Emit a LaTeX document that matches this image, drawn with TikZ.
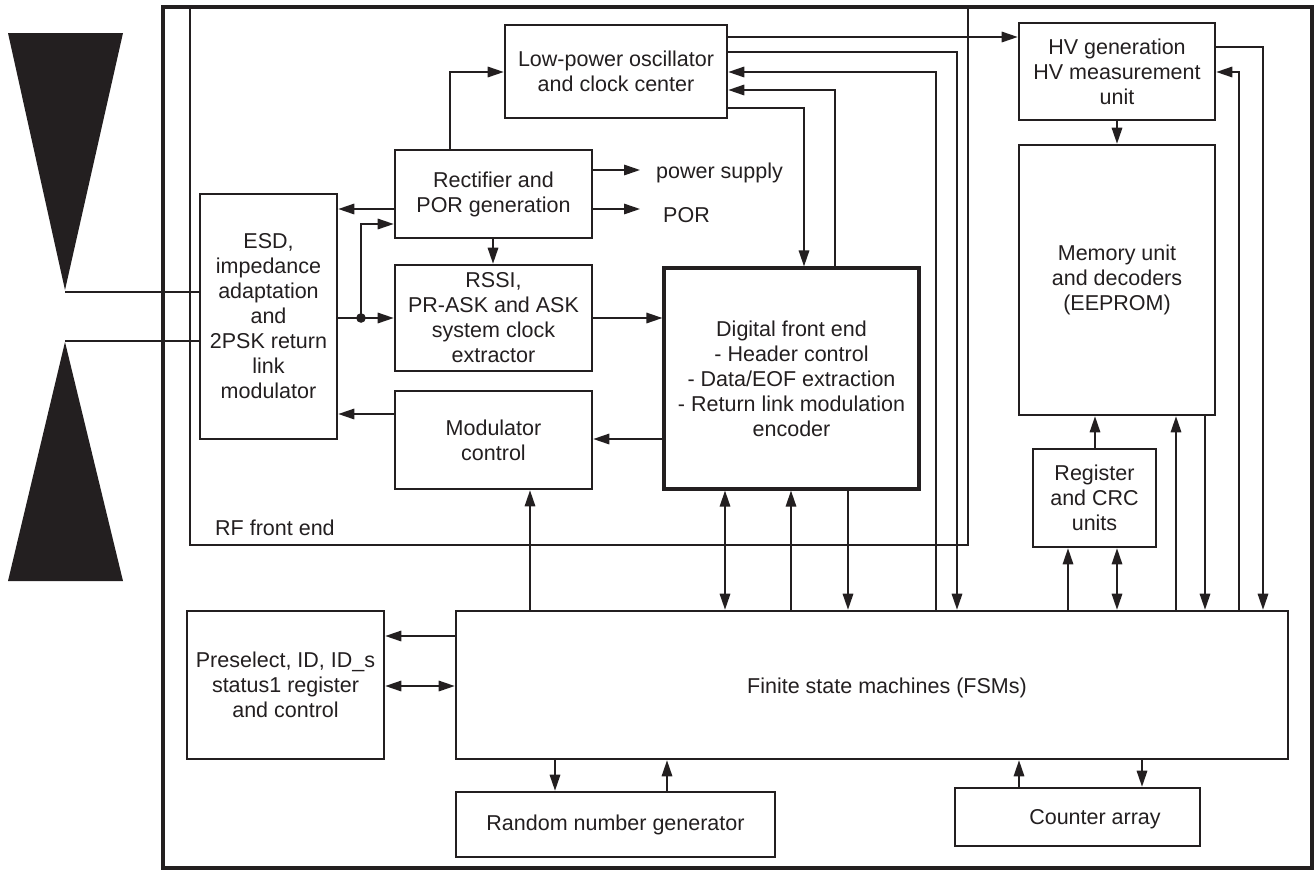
\documentclass[tikz,border=0pt]{standalone}
\usepackage{fontspec}
\setmainfont{Liberation Sans}
\usetikzlibrary{arrows.meta,calc}
\definecolor{ink}{RGB}{35,31,32}
\begin{document}
\begin{tikzpicture}[x=1pt,y=-1pt,
  every node/.style={text=ink},
  txt/.style={font=\fontsize{21.5}{25}\selectfont, align=center, inner sep=0pt},
  blk/.style={draw=ink, line width=2.6pt, rectangle, inner sep=0pt, txt},
  wire/.style={draw=ink, line width=1.6pt},
  arr/.style={wire, -{Triangle[length=16pt,width=10.5pt]}},
  biarr/.style={wire, {Triangle[length=16pt,width=10.5pt]}-{Triangle[length=16pt,width=10.5pt]}}]

% canvas
\fill[white] (0,0) rectangle (1316,871);
\useasboundingbox (0,0) rectangle (1316,871);

% antenna
\fill[ink] (8,33) -- (123,33) -- (65,290) -- cycle;
\fill[ink] (65,342) -- (8,581) -- (123,581) -- cycle;
\coordinate (antA) at (65,292);
\coordinate (antB) at (65,341);

% chip outline and RF front end
\node[draw=ink, line width=4.5pt, minimum width=1149pt, minimum height=861pt, inner sep=0pt] (chip) at (737.5,437.5) {};
\node[draw=ink, line width=2.6pt, minimum width=778pt, minimum height=538pt, inner sep=0pt] (rf) at (579,276) {};
\node[txt, anchor=base west] (rflabel) at (215,535) {RF front end};

% blocks
\node[blk, minimum width=222pt, minimum height=93pt] (osc) at (616,71.5) {Low-power oscillator\\and clock center};
\node[blk, minimum width=197pt, minimum height=88pt] (rect) at (493.5,194) {Rectifier and\\POR generation};
\node[blk, minimum width=137pt, minimum height=245pt] (esd) at (268.5,316.5) {ESD,\\impedance\\adaptation\\and\\2PSK return\\link\\modulator};
\node[blk, minimum width=197pt, minimum height=106pt] (rssi) at (493.5,318) {RSSI,\\PR-ASK and ASK\\system clock\\extractor};
\node[blk, minimum width=197pt, minimum height=98pt] (mod) at (493.5,440) {Modulator\\control};
\node[blk, line width=3.2pt, minimum width=255pt, minimum height=221pt] (dfe) at (791.5,378.5) {Digital front end\\- Header control\\- Data/EOF extraction\\- Return link modulation\\encoder};
\node[blk, minimum width=196pt, minimum height=97pt] (hv) at (1117,71.5) {HV generation\\HV measurement\\unit};
\node[blk, minimum width=196pt, minimum height=270pt] (mem) at (1117,280) {Memory unit\\and decoders\\(EEPROM)};
\node[blk, minimum width=123pt, minimum height=98pt] (reg) at (1094.5,498) {Register\\and CRC\\units};
\node[blk, minimum width=832pt, minimum height=148pt] (fsm) at (872,685) {};
\node[txt] (fsmtext) at (887,688) {Finite state machines (FSMs)};
\node[blk, minimum width=197pt, minimum height=148pt] (pre) at (285.5,685) {Preselect, ID, ID\_s\\status1 register\\and control};
\node[blk, minimum width=319pt, minimum height=65pt] (rng) at (615.5,824.5) {Random number generator};
\node[blk, minimum width=245pt, minimum height=58pt] (cnt) at (1077.5,817) {};
\node[txt] (cnttext) at (1095,819) {Counter array};

% outputs of the rectifier
\node[txt, anchor=base west] (pwr) at (656,178) {power supply};
\node[txt, anchor=base west] (por) at (663,222) {POR};
\coordinate (pwrend) at (640,170);
\coordinate (porend) at (640,209);

% antenna feed
\draw[wire, line width=1.3pt] (antA) -- (esd.west |- antA);
\draw[wire, line width=1.3pt] (antB) -- (esd.west |- antB);

% RF front end connections
\coordinate (jn) at (361,318);
\draw[wire] (esd.east |- jn) -- (jn);
\draw[arr] (jn) -- (rssi.west |- jn);
\draw[arr] (jn) |- (rect.west |- 0,224);
\fill[ink] (jn) circle[radius=4.8pt];
\draw[arr] (rect.west |- 0,209) -- (esd.east |- 0,209);
\draw[arr] (rect.east |- pwrend) -- (pwrend);
\draw[arr] (rect.east |- porend) -- (porend);
\draw[arr] (rect.north -| 450,0) |- (osc.west |- 0,72);
\draw[arr] (rect.south -| 493,0) -- (rssi.north -| 493,0);
\draw[arr] (rssi.east |- jn) -- (dfe.west |- jn);
\draw[arr] (dfe.west |- 0,439) -- (mod.east |- 0,439);
\draw[arr] (mod.west |- 0,414) -- (esd.east |- 0,414);

% oscillator connections
\draw[arr] (osc.east |- 0,37) -- (hv.west |- 0,37);
\draw[arr] (osc.east |- 0,52) -| (fsm.north -| 957,0);
\draw[arr] (fsm.north -| 936,0) |- (osc.east |- 0,72);
\draw[arr] (dfe.north -| 835,0) |- (osc.east |- 0,90);
\draw[arr] (osc.east |- 0,108) -| (dfe.north -| 804,0);

% FSM to RF front end
\draw[arr] (fsm.north -| 530,0) -- (mod.south -| 530,0);
\draw[biarr] (dfe.south -| 725,0) -- (fsm.north -| 725,0);
\draw[arr] (fsm.north -| 791,0) -- (dfe.south -| 791,0);
\draw[arr] (dfe.south -| 848,0) -- (fsm.north -| 848,0);

% memory side
\draw[arr] (hv.south -| 1117,0) -- (mem.north -| 1117,0);
\draw[arr] (reg.north -| 1095,0) -- (mem.south -| 1095,0);
\draw[arr] (fsm.north -| 1068,0) -- (reg.south -| 1068,0);
\draw[biarr] (reg.south -| 1117,0) -- (fsm.north -| 1117,0);
\draw[arr] (fsm.north -| 1176,0) -- (mem.south -| 1176,0);
\draw[arr] (mem.south -| 1205,0) -- (fsm.north -| 1205,0);
\draw[arr] (fsm.north -| 1239,0) |- (hv.east |- 0,72);
\draw[arr] (hv.east |- 0,47) -| (fsm.north -| 1263,0);

% FSM periphery
\draw[arr] (fsm.west |- 0,636) -- (pre.east |- 0,636);
\draw[biarr] (pre.east |- 0,686) -- (fsm.west |- 0,686);
\draw[arr] (fsm.south -| 555,0) -- (rng.north -| 555,0);
\draw[arr] (rng.north -| 667,0) -- (fsm.south -| 667,0);
\draw[arr] (cnt.north -| 1019,0) -- (fsm.south -| 1019,0);
\draw[arr] (fsm.south -| 1142,0) -- (cnt.north -| 1142,0);
\end{tikzpicture}
\end{document}
